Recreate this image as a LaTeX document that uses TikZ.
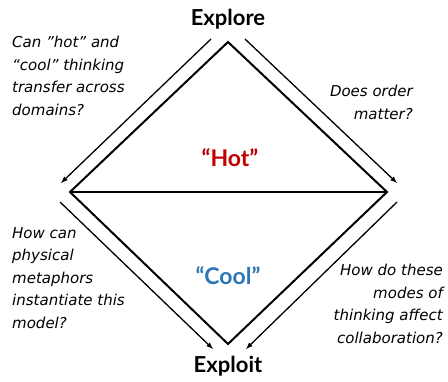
\documentclass[tikz,border=0pt]{standalone}
\usepackage{fontspec}
\setmainfont{Lato}
\newfontfamily\scribble{DejaVu Sans}
\usepackage{tikz}
\usetikzlibrary{arrows,positioning}
\definecolor{hotred}{RGB}{192,0,0}
\definecolor{coolblue}{RGB}{46,117,182}

\begin{document}
\begin{tikzpicture}[x=1pt,y=-1pt,
    mode/.style={font=\bfseries\fontsize{22}{22}\selectfont,inner sep=0pt},
    temp/.style={font=\bfseries\fontsize{23}{23}\selectfont,inner sep=0pt},
    question/.style={font=\scribble\itshape\fontsize{15}{22.5}\selectfont,inner sep=0pt},
    flow/.style={-latex,line width=1.3pt}
  ]
      \useasboundingbox (0,0) rectangle (448,381);

      \coordinate (T) at (228,42);
      \coordinate (L) at (70,192);
      \coordinate (R) at (387,192);
      \coordinate (B) at (228,344);

      \coordinate (a1) at (211,39);
      \coordinate (a2) at (61,183);
      \coordinate (b1) at (245,39);
      \coordinate (b2) at (397,183);
      \coordinate (c1) at (60,202);
      \coordinate (c2) at (213,349);
      \coordinate (d1) at (397,202);
      \coordinate (d2) at (246,349);

      \node[mode] (explore) at (228,19) {Explore};
      \node[mode] (exploit) at (228,366) {Exploit};
      \node[temp,text=hotred] (hot) at (230,158) {“Hot”};
      \node[temp,text=coolblue] (cool) at (228,276) {“Cool”};

      \node[question,align=left,anchor=north west] (qtransfer) at (12,36)
        {Can ”hot” and\\“cool” thinking\\transfer across\\domains?};
      \node[question,align=right,anchor=north east] (qorder) at (413,85)
        {Does order\\matter?};
      \node[question,align=left,anchor=north west] (qmetaphor) at (12,227)
        {How can\\physical\\metaphors\\instantiate this\\model?};
      \node[question,align=right,anchor=north east] (qcollab) at (443,264)
        {How do these\\modes of\\thinking affect\\collaboration?};

      \draw[line width=2pt,line join=miter] (T) -- (R) -- (B) -- (L) -- cycle;
      \draw[line width=2pt] (L) -- (R);

      \draw[flow] (a1) -- (a2);
      \draw[flow] (b1) -- (b2);
      \draw[flow] (c1) -- (c2);
      \draw[flow] (d1) -- (d2);

\end{tikzpicture}
\end{document}
